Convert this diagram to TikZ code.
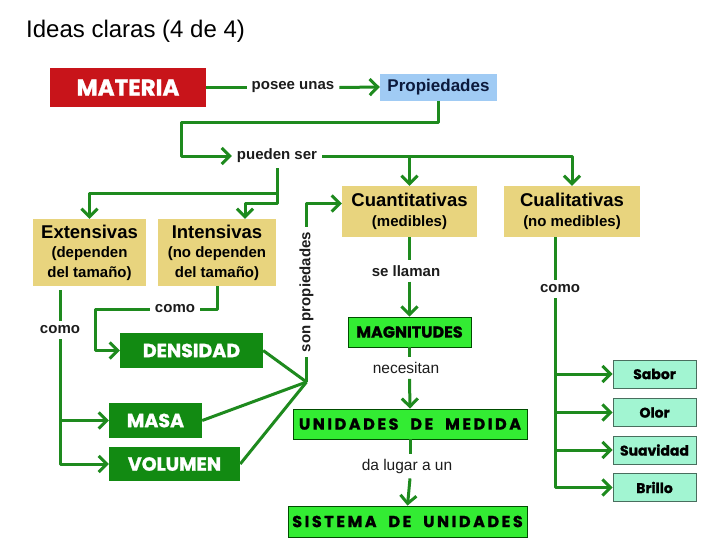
\documentclass[tikz,border=0pt]{standalone}
\usepackage{fontspec}
\setmainfont{Liberation Sans}
\newfontfamily\disp[FakeBold=1.2]{Poppins}
\newfontfamily\dispsp[LetterSpace=16,FakeBold=1.2]{Poppins}
\usetikzlibrary{arrows.meta}
\definecolor{lg}{HTML}{1E8A1E}
\definecolor{matred}{HTML}{C8141A}
\definecolor{propblue}{HTML}{A0CBF4}
\definecolor{tan}{HTML}{E8D47E}
\definecolor{dgreen}{HTML}{128A12}
\definecolor{bgreen}{HTML}{33EC33}
\definecolor{aqua}{HTML}{A2F5D2}
\definecolor{labc}{HTML}{1C1C1C}
\definecolor{navy}{HTML}{0C1A3C}
\begin{document}
\begin{tikzpicture}[x=1pt,y=-1pt,
  conn/.style={draw=lg, line width=3pt, line join=round},
  arr/.style={conn, -{Straight Barb[length=8pt,width=16pt]}},
  lab/.style={font=\bfseries\fontsize{15}{17}\selectfont, text=labc, inner sep=5pt},
  labr/.style={font=\fontsize{15.5}{17}\selectfont, text=labc, inner sep=5pt},
  box/.style={inner sep=0pt, align=center},
  tanbox/.style={box, fill=tan, text=black, font=\bfseries\fontsize{15}{19.5}\selectfont},
  dbox/.style={box, fill=dgreen, text=white, font=\disp\bfseries\fontsize{19}{19}\selectfont, minimum height=35pt},
  gbox/.style={box, fill=bgreen, draw=black!70!green, line width=0.8pt, text=black},
  abox/.style={box, fill=aqua, draw=black!55!aqua, line width=0.8pt, text=black, font=\disp\bfseries\fontsize{14}{14}\selectfont, minimum width=83pt, minimum height=28pt}
]
\useasboundingbox (0,0) rectangle (728,546);
\node[anchor=base west, font=\fontsize{24}{26}\selectfont, inner sep=0pt] (title) at (26,37.5) {Ideas claras (4 de 4)};

\node[box, fill=matred, text=white, font=\disp\bfseries\fontsize{23}{23}\selectfont, minimum width=156pt, minimum height=39pt] (mat) at (128,87.5) {MATERIA};
\node[lab] (posee) at (293,87.5) {posee unas};
\node[box, fill=propblue, text=navy, font=\bfseries\fontsize{17}{17}\selectfont, minimum width=117pt, minimum height=27pt] (prop) at (438.5,87) {Propiedades};
\draw[conn] (mat.east) -- (posee.west);
\draw[arr] (posee.east) -- (prop.west);

\node[lab] (puede) at (277,156) {pueden ser};
\coordinate (b1) at (181,122);
\draw[arr] (prop.south) |- (b1) |- (puede.west);

\node[tanbox, minimum width=135pt, minimum height=51pt] (cuant) at (409.5,211.5) {{\fontsize{18.5}{21}\selectfont Cuantitativas}\\(medibles)};
\node[tanbox, minimum width=136pt, minimum height=51pt] (cuali) at (572,211.5) {{\fontsize{18.5}{21}\selectfont Cualitativas}\\(no medibles)};
\draw[arr] (puede.east) -| (cuali.north);
\draw[arr] (puede.east -| cuant.north) -- (cuant.north);

\node[tanbox, minimum width=113pt, minimum height=67pt] (exten) at (89.5,252.5) {{\fontsize{18.5}{19.5}\selectfont Extensivas}\\(dependen\\del tamaño)};
\node[tanbox, minimum width=118pt, minimum height=67pt] (inten) at (217,252.5) {{\fontsize{18.5}{19.5}\selectfont Intensivas}\\(no dependen\\del tamaño)};
\coordinate (j1) at (277,193);
\coordinate (j2) at (277,203);
\coordinate (j3) at (245,203);
\draw[arr] (puede.south) -- (j2) -- (j3) -- (j3 |- inten.north);
\draw[arr] (j1) -| (exten.north);

\node[dbox, minimum width=143pt] (dens) at (191.5,350.5) {DENSIDAD};
\node[dbox, minimum width=93pt] (masa) at (155.5,420.5) {MASA};
\node[dbox, minimum width=131pt, minimum height=34pt] (vol) at (174.5,464) {VOLUMEN};

\node[lab] (icomo) at (175,309) {como};
\coordinate (k1) at (95,309);
\draw[conn] (inten.south) |- (icomo.east);
\draw[arr] (icomo.west) -- (k1) |- (dens.west);

\node[lab] (ecomo) at (60,330) {como};
\draw[conn] ([yshift=-4pt]exten.south -| ecomo) -- (ecomo.north);
\draw[arr] (ecomo.south) |- (masa.west);
\draw[arr] (ecomo.south) |- (vol.west);

\node[lab, rotate=90] (son) at (306.5,292) {son propiedades};
\coordinate (cv) at (306.5,382);
\draw[conn] (dens.east) -- (cv);
\draw[conn] (masa.east) -- (cv);
\draw[conn] (vol.east) -- (cv);
\draw[conn] (cv) -- (son.west);
\draw[arr] (son.east) |- ([yshift=8pt]cuant.west);

\node[gbox, font=\disp\bfseries\fontsize{16}{16}\selectfont, minimum width=123pt, minimum height=30pt] (magn) at (409.5,332) {MAGNITUDES};
\node[gbox, font=\dispsp\bfseries\fontsize{16}{16}\selectfont, minimum width=234pt, minimum height=30pt] (unid) at (410,424) {UNIDADES\ \ DE\ \ MEDIDA};
\node[gbox, font=\dispsp\bfseries\fontsize{16}{16}\selectfont, minimum width=239pt, minimum height=31pt] (sist) at (407.5,521.5) {SISTEMA\ \ DE\ \ UNIDADES};

\node[lab] (sella) at (406,271) {se llaman};
\draw[conn] (cuant.south) -- (cuant.south |- sella.north);
\draw[arr] (cuant.south |- sella.south) -- (magn.north);
\node[labr] (neces) at (406,368) {necesitan};
\draw[conn] (magn.south) -- (magn.south |- neces.north);
\draw[arr] (magn.south |- neces.south) -- (unid.north);
\node[labr] (dalug) at (407,466) {da lugar a un};
\draw[conn] (unid.south) -- (unid.south |- dalug.north);
\draw[arr] (unid.south |- dalug.south) -- (sist.north);

\node[abox] (sabor) at (654.5,374) {Sabor};
\node[abox] (olor) at (654.5,412.5) {Olor};
\node[abox] (suav) at (654.5,450) {Suavidad};
\node[abox] (brillo) at (654.5,487.5) {Brillo};
\node[lab] (ccomo) at (560,289) {como};
\coordinate (qt) at (555,237);
\draw[conn] (qt) -- (qt |- ccomo.north);
\draw[arr] (qt |- ccomo.south) |- (sabor.west);
\draw[arr] (qt |- ccomo.south) |- (olor.west);
\draw[arr] (qt |- ccomo.south) |- (suav.west);
\draw[arr] (qt |- ccomo.south) |- (brillo.west);
\end{tikzpicture}
\end{document}
